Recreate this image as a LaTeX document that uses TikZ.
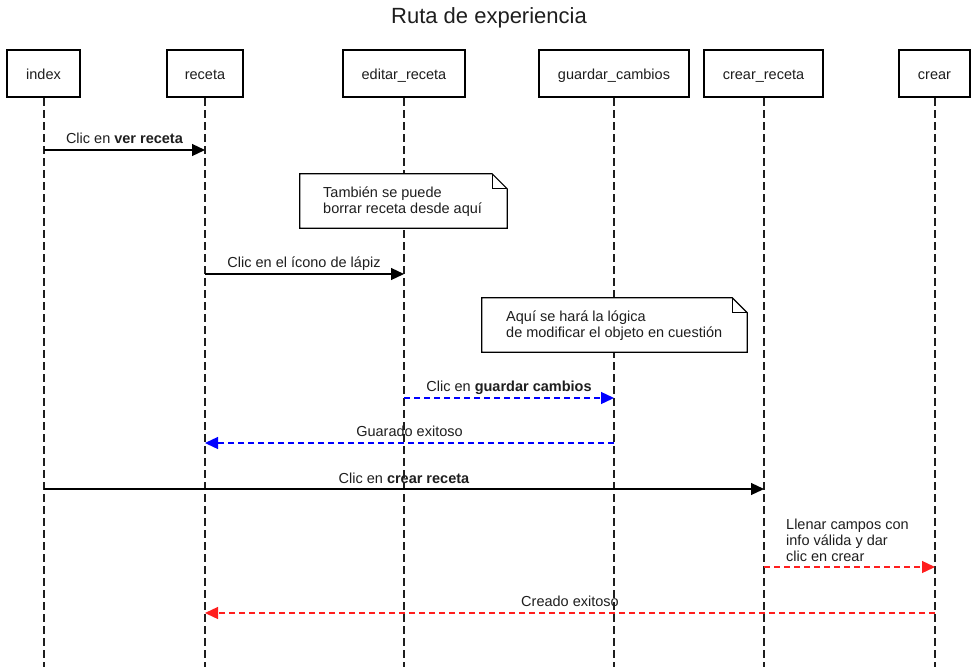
\documentclass[tikz,border=0pt]{standalone}
\usepackage{fontspec}
\setmainfont{Liberation Sans}
\usetikzlibrary{arrows.meta}
\definecolor{msgblue}{RGB}{0,0,255}
\definecolor{msgred}{RGB}{255,30,30}
\definecolor{ink}{RGB}{30,30,30}
\tikzset{
  actor/.style={draw=black, line width=2pt, fill=white, minimum height=47pt, inner sep=0pt, font=\fontsize{14.5}{17}\selectfont, text=ink, text height=14pt, text depth=2pt},
  lifeline/.style={draw=ink, line width=1.2pt, dash pattern=on 8pt off 4pt},
  tip/.style={-{Triangle[length=13pt,width=12pt]}},
  msg/.style={draw=black, line width=1.2pt, tip},
  msgdash/.style={line width=1.3pt, dash pattern=on 6pt off 4pt, tip},
  lbl/.style={font=\fontsize{14.5}{17}\selectfont, text=ink, inner sep=0pt, text height=10.5pt, text depth=3pt},
  notebox/.style={draw=none, fill=white, inner sep=0pt},
  noteline/.style={line width=1.2pt, draw=black},
  notetext/.style={font=\fontsize{14.5}{16}\selectfont, text=ink, align=left, inner sep=0pt, anchor=north west}
}
\begin{document}
\begin{tikzpicture}[x=1pt,y=-1pt]
\useasboundingbox (0,0) rectangle (977,670);
\node[font=\fontsize{22}{26}\selectfont, text=ink] (title) at (489,18) {Ruta de experiencia};

% actors
\node[actor, minimum width=73pt] (index) at (43.5,73.5) {index};
\node[actor, minimum width=76pt] (receta) at (205,73.5) {receta};
\node[actor, minimum width=122pt] (editar) at (404,73.5) {editar\_receta};
\node[actor, minimum width=150pt] (guardar) at (614,73.5) {guardar\_cambios};
\node[actor, minimum width=119pt] (crearr) at (763.5,73.5) {crear\_receta};
\node[actor, minimum width=71pt] (crear) at (934.5,73.5) {crear};

% lifeline ends
\coordinate (indexE) at (44,667);
\coordinate (recetaE) at (205,667);
\coordinate (editarE) at (404,667);
\coordinate (guardarE) at (614,667);
\coordinate (crearrE) at (764,667);
\coordinate (crearE) at (935,667);
\draw[lifeline] (index.south -| indexE) -- (indexE);
\draw[lifeline] (receta.south -| recetaE) -- (recetaE);
\draw[lifeline] (editar.south -| editarE) -- (editarE);
\draw[lifeline] (guardar.south -| guardarE) -- (guardarE);
\draw[lifeline] (crearr.south -| crearrE) -- (crearrE);
\draw[lifeline] (crear.south -| crearE) -- (crearE);

% notes
\node[notebox, minimum width=207pt, minimum height=54pt] (note1) at (403.5,201) {};
\draw[noteline] (note1.north west) -- ([xshift=-15pt]note1.north east) -- ([yshift=-15pt]note1.north east) -- (note1.south east) -- (note1.south west) -- cycle;
\draw[noteline] ([xshift=-15pt]note1.north east) -- ([xshift=-15pt,yshift=-15pt]note1.north east) -- ([yshift=-15pt]note1.north east);
\node[notetext] (note1t) at (323,187) {También se puede\\borrar receta desde aquí};

\node[notebox, minimum width=265pt, minimum height=54pt] (note2) at (614.5,325) {};
\draw[noteline] (note2.north west) -- ([xshift=-15pt]note2.north east) -- ([yshift=-15pt]note2.north east) -- (note2.south east) -- (note2.south west) -- cycle;
\draw[noteline] ([xshift=-15pt]note2.north east) -- ([xshift=-15pt,yshift=-15pt]note2.north east) -- ([yshift=-15pt]note2.north east);
\node[notetext] (note2t) at (506,311) {Aquí se hará la lógica\\de modificar el objeto en cuestión};

% messages
\draw[msg] (indexE |- 0,150) -- (recetaE |- 0,150);
\node[lbl] (m1) at (124.5,140) {Clic en \textbf{ver receta}};

\draw[msg] (recetaE |- 0,274) -- (editarE |- 0,274);
\node[lbl] (m2) at (304,264) {Clic en el ícono de lápiz};

\draw[msgdash, color=msgblue] (editarE |- 0,398) -- (guardarE |- 0,398);
\node[lbl] (m3) at (509,388) {Clic en \textbf{guardar cambios}};

\draw[msgdash, color=msgblue] (guardarE |- 0,443) -- (recetaE |- 0,443);
\node[lbl] (m4) at (409.5,433) {Guarado exitoso};

\draw[msg] (indexE |- 0,489) -- (crearrE |- 0,489);
\node[lbl] (m5) at (404,480) {Clic en \textbf{crear receta}};

\draw[msgdash, color=msgred] (crearrE |- 0,567) -- (crearE |- 0,567);
\node[lbl, align=left, anchor=north west, font=\fontsize{14.5}{16}\selectfont, text height=, text depth=] (m6) at (786,519) {Llenar campos con\\info válida y dar\\clic en crear};

\draw[msgdash, color=msgred] (crearE |- 0,613) -- (recetaE |- 0,613);
\node[lbl] (m7) at (570,603) {Creado exitoso};
\end{tikzpicture}
\end{document}
